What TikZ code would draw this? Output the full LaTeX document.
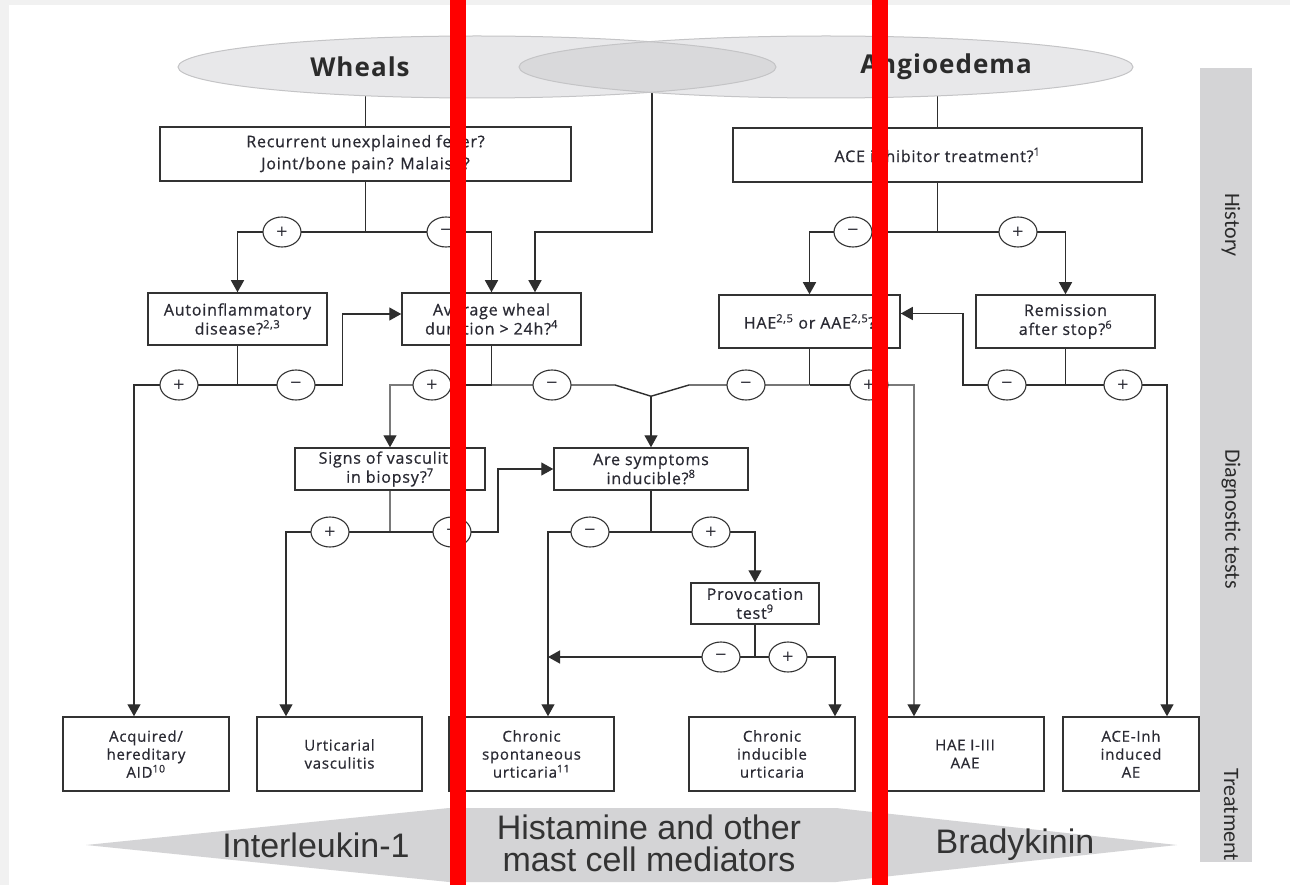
\documentclass[tikz,border=0pt]{standalone}
\usepackage{fontspec}
\setmainfont{Open Sans}
\newfontfamily\boxfont[LetterSpace=5,FakeBold=0.7]{Open Sans}
\newfontfamily\headfont[LetterSpace=4]{Open Sans}
\newfontfamily\sidefont{Carlito}
\newfontfamily\bandfont{Liberation Sans}
\newfontfamily\signfont{DejaVu Sans}
\usetikzlibrary{arrows.meta,shapes.geometric,calc}
\pgfdeclarelayer{back}
\pgfdeclarelayer{bg}
\pgfsetlayers{back,bg,main}
\definecolor{linec}{HTML}{2E2E2E}
\definecolor{lightc}{HTML}{7A7A7A}
\definecolor{boxc}{HTML}{333333}
\definecolor{ellfill}{HTML}{E8E8EA}
\definecolor{ellline}{HTML}{C4C4C6}
\definecolor{overlapc}{HTML}{D9D9DB}
\definecolor{bandc}{HTML}{D4D4D6}
\definecolor{framec}{HTML}{F1F1F1}
\definecolor{txtc}{HTML}{2A2A33}
\definecolor{headc}{HTML}{2B2B2B}
\definecolor{bandtxt}{HTML}{333333}
\definecolor{redbar}{HTML}{FF0000}
\begin{document}
\begin{tikzpicture}[x=1pt,y=-1pt,
  qbox/.style={draw=boxc,line width=1.5pt,fill=white,text=txtc,align=center,inner sep=0pt},
  topbox/.style={qbox,font=\boxfont\fontsize{16}{22}\selectfont},
  midbox/.style={qbox,font=\boxfont\fontsize{16}{19}\selectfont},
  endbox/.style={qbox,font=\boxfont\fontsize{15}{18}\selectfont},
  sgn/.style={ellipse,draw=boxc,line width=1.1pt,fill=white,minimum width=38pt,minimum height=30pt,inner sep=0pt,text=txtc,font=\signfont\fontsize{15}{15}\selectfont},
  conn/.style={draw=linec,line width=1.4pt},
  lconn/.style={draw=lightc,line width=1.4pt},
  arrowend/.style={-{Triangle[width=13pt,length=12pt,color=linec]}},
  headtxt/.style={font=\headfont\bfseries\fontsize{26}{26}\selectfont,text=headc},
  sidetxt/.style={rotate=-90,font=\sidefont\fontsize{22}{22}\selectfont,text=headc},
  bandlab/.style={font=\bandfont\fontsize{34}{32}\selectfont,text=bandtxt,align=center,inner sep=0pt}
]
\useasboundingbox (0,0) rectangle (1290,885);
\begin{pgfonlayer}{back}
  \fill[framec] (0,0) rectangle (1290,885);
  \fill[white] (9,5) rectangle (1290,885);
  \fill[bandc] (1200,68) rectangle (1252,862);
  \fill[bandc] (86,845) -- (449,808) -- (836,808) -- (1177,845) -- (836,882) -- (449,882) -- cycle;
\end{pgfonlayer}

% ellipses
\fill[ellfill] (477,67) ellipse [x radius=299,y radius=31];
\fill[ellfill] (826,67) ellipse [x radius=307,y radius=31];
\begin{scope}
  \clip (477,67) ellipse [x radius=299,y radius=31];
  \fill[overlapc] (826,67) ellipse [x radius=307,y radius=31];
\end{scope}
\draw[ellline,line width=1pt] (477,67) ellipse [x radius=299,y radius=31];
\draw[ellline,line width=1pt] (826,67) ellipse [x radius=307,y radius=31];
\coordinate (wheals) at (477,67);
\coordinate (angio) at (826,67);
\coordinate (both) at (652,67);
\node[headtxt] (whealstxt) at (360,67) {Wheals};
\node[headtxt] (angiotxt) at (946,67) {Angioedema};

% question boxes
\node[topbox,minimum width=411pt,minimum height=54pt] (rec) at (365.5,154) {Recurrent unexplained fever?\\Joint/bone pain? Malaise?};
\node[topbox,minimum width=409pt,minimum height=54pt] (ace) at (937.5,155) {ACE inhibitor treatment?\textsuperscript{1}};
\node[midbox,minimum width=179pt,minimum height=52pt] (autoinfl) at (237.5,319) {Autoinflammatory\\disease?\textsuperscript{2,3}};
\node[midbox,minimum width=179pt,minimum height=52pt] (avg) at (491.5,319) {Average wheal\\duration > 24h?\textsuperscript{4}};
\node[midbox,minimum width=181pt,minimum height=53pt] (hae) at (809.5,321.5) {HAE\textsuperscript{2,5} or AAE\textsuperscript{2,5}?};
\node[midbox,minimum width=179pt,minimum height=53pt] (rem) at (1065.5,321.5) {Remission\\after stop?\textsuperscript{6}};
\node[midbox,minimum width=190pt,minimum height=42pt] (signs) at (390,469) {Signs of vasculitis\\in biopsy?\textsuperscript{7}};
\node[midbox,minimum width=194pt,minimum height=42pt] (are) at (651,469) {Are symptoms\\inducible?\textsuperscript{8}};
\node[midbox,minimum width=128pt,minimum height=41pt] (prov) at (755,603.5) {Provocation\\test\textsuperscript{9}};

% end boxes
\node[endbox,minimum width=166pt,minimum height=74pt] (acq) at (146,754) {Acquired/\\hereditary\\AID\textsuperscript{10}};
\node[endbox,minimum width=165pt,minimum height=74pt] (urt) at (339.5,754) {Urticarial\\vasculitis};
\node[endbox,minimum width=165pt,minimum height=74pt] (csu) at (531.5,754) {Chronic\\spontaneous\\urticaria\textsuperscript{11}};
\node[endbox,minimum width=166pt,minimum height=74pt] (ciu) at (772,754) {Chronic\\inducible\\urticaria};
\node[endbox,minimum width=158pt,minimum height=74pt] (haeres) at (965,754) {HAE I-III\\AAE};
\node[endbox,minimum width=136pt,minimum height=74pt] (aceinh) at (1131,754) {ACE-Inh\\induced\\AE};

% signs
\node[sgn] (s1) at (282,232) {+};
\node[sgn] (s2) at (446,232) {−};
\node[sgn] (s3) at (853,232) {−};
\node[sgn] (s4) at (1018,232) {+};
\node[sgn] (s5) at (179,385) {+};
\node[sgn] (s6) at (296,385) {−};
\node[sgn] (s7) at (432,385) {+};
\node[sgn] (s8) at (552,385) {−};
\node[sgn] (s9) at (746,385) {−};
\node[sgn] (s10) at (869,385) {+};
\node[sgn] (s11) at (1007,385) {−};
\node[sgn] (s12) at (1123,385) {+};
\node[sgn] (s13) at (330,532) {+};
\node[sgn] (s14) at (452,532) {−};
\node[sgn] (s15) at (590,532) {−};
\node[sgn] (s16) at (711,532) {+};
\node[sgn] (s17) at (721,657) {−};
\node[sgn] (s18) at (788,657) {+};

% helper coordinates
\coordinate (r1) at (0,232);
\coordinate (r2) at (0,385);
\coordinate (r3) at (0,532);
\coordinate (r4) at (0,657);
\coordinate (j1) at (rec.south |- r1);
\coordinate (j2) at (ace.south |- r1);
\coordinate (j3) at (autoinfl.south |- r2);
\coordinate (j4) at (avg.south |- r2);
\coordinate (j5) at (hae.south |- r2);
\coordinate (j6) at (rem.south |- r2);
\coordinate (j7) at (signs.south |- r3);
\coordinate (j8) at (are.south |- r3);
\coordinate (j9) at (prov.south |- r4);
\coordinate (vee) at ($(are.north)+(0,-51)$);
\coordinate (acqin) at ($(acq.north)+(-12,0)$);
\coordinate (urtin) at ($(urt.north)+(-53.5,0)$);
\coordinate (csuin) at ($(csu.north)+(16.5,0)$);
\coordinate (ciuin) at ($(ciu.north)+(63,0)$);
\coordinate (haerin) at ($(haeres.north)+(-51,0)$);
\coordinate (aceinhin) at ($(aceinh.north)+(36,0)$);
\coordinate (avgin) at ($(avg.north)+(43.5,0)$);
\coordinate (avgw) at ($(avg.west)+(0,-5)$);
\coordinate (haee) at ($(hae.east)+(0,-8)$);
\coordinate (c1) at ($(j3)+(105,0)$);
\coordinate (c2) at ($(j4)+(123.5,0)$);
\coordinate (c3) at ($(j5)+(-120.5,0)$);
\coordinate (c4) at ($(j6)+(-102.5,0)$);
\coordinate (c5) at ($(j7)+(108,0)$);

\begin{pgfonlayer}{bg}
  \draw[conn] (rec.north |- wheals) -- (rec.north);
  \draw[conn] (ace.north |- angio) -- (ace.north);
  \draw[conn] (rec.south) -- (j1);
  \draw[conn,arrowend] (j1) -| (autoinfl.north);
  \draw[conn,arrowend] (j1) -| (avg.north);
  \draw[conn,arrowend] (both) -- (both |- r1) -| (avgin);
  \draw[conn] (ace.south) -- (j2);
  \draw[conn,arrowend] (j2) -| (hae.north);
  \draw[conn,arrowend] (j2) -| (rem.north);
  \draw[conn] (autoinfl.south) -- (j3);
  \draw[conn,arrowend] (j3) -| (acqin);
  \draw[conn,arrowend] (j3) -- (c1) |- (avgw);
  \draw[conn] (avg.south) -- (j4);
  \draw[conn] (j4) -- (s7.center);
  \draw[lconn,arrowend] (s7.center) -| (signs.north);
  \draw[conn] (j4) -- (c2) -- (vee);
  \draw[conn,arrowend] (vee) -- (are.north);
  \draw[conn] (hae.south) -- (j5);
  \draw[conn] (j5) -- (c3) -- (vee);
  \draw[conn] (j5) -- (s10.center);
  \draw[lconn,arrowend] (s10.center) -| (haerin);
  \draw[conn] (rem.south) -- (j6);
  \draw[conn,arrowend] (j6) -- (c4) |- (haee);
  \draw[conn,arrowend] (j6) -| (aceinhin);
  \draw[lconn] (signs.south) -- (j7);
  \draw[conn,arrowend] (j7) -| (urtin);
  \draw[conn,arrowend] (j7) -- (c5) |- (are.west);
  \draw[conn] (are.south) -- (j8);
  \draw[conn,arrowend] (j8) -| (csuin);
  \draw[conn,arrowend] (j8) -| (prov.north);
  \draw[conn] (prov.south) -- (j9);
  \draw[conn,arrowend] (j9) -- (csuin |- j9);
  \draw[conn,arrowend] (j9) -| (ciuin);
\end{pgfonlayer}

% side labels
\node[sidetxt] (histlab) at (1231,225) {History};
\node[sidetxt] (diaglab) at (1231,519) {Diagnostic tests};
\node[sidetxt] (treatlab) at (1231,815) {Treatment};

% band labels
\node[bandlab] (il1) at (316,845) {Interleukin-1};
\node[bandlab] (histam) at (649,843) {Histamine and other\\mast cell mediators};
\node[bandlab] (brady) at (1015,845) {Bradykinin};

% red bars
\fill[redbar] (450,0) rectangle (466,885);
\fill[redbar] (872,0) rectangle (888,885);
\end{tikzpicture}
\end{document}
